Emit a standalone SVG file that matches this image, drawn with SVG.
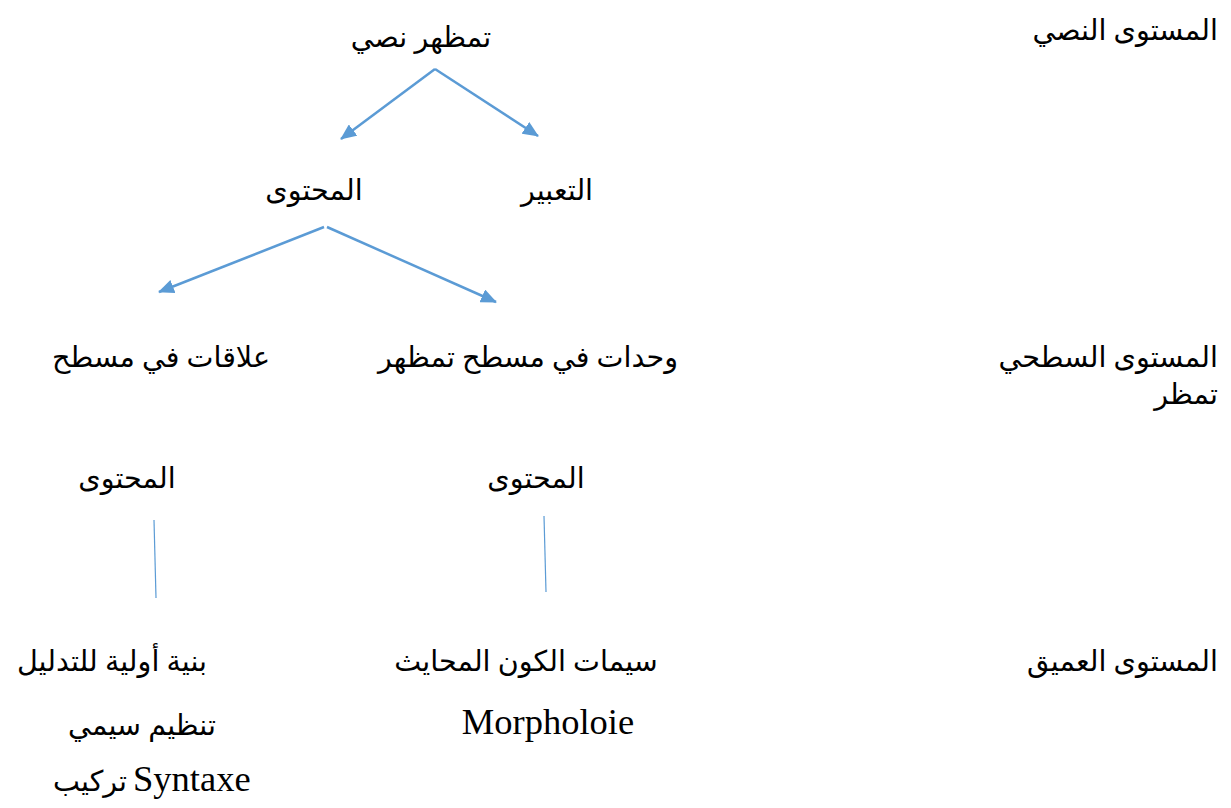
<svg xmlns="http://www.w3.org/2000/svg" width="1231" height="808" viewBox="0 0 1231 808">
<style>
.t{font-family:"Liberation Serif","DejaVu Sans",serif;font-size:28.6px;fill:#000;}
.r{text-anchor:end;}
.c{text-anchor:middle;}
.lat{font-family:"Liberation Serif",serif;font-size:36.5px;fill:#000;}
.ln{stroke:#5B9BD5;stroke-width:2.5;fill:none;}
.thin{stroke:#5B9BD5;stroke-width:1.2;fill:none;}
</style>
<defs>
<marker id="ah" markerUnits="userSpaceOnUse" markerWidth="16" markerHeight="14" refX="15" refY="7" orient="auto">
<path d="M0,0 L16,7 L0,14 Z" fill="#5B9BD5"/>
</marker>
</defs>
<rect width="1231" height="808" fill="#fff"/>
<g id="connectors">
<line class="ln" x1="435" y1="69" x2="341" y2="139" marker-end="url(#ah)"/>
<line class="ln" x1="435" y1="69" x2="538" y2="136" marker-end="url(#ah)"/>
<line class="ln" x1="324" y1="227" x2="159" y2="292" marker-end="url(#ah)"/>
<line class="ln" x1="327" y1="227" x2="496" y2="302" marker-end="url(#ah)"/>
<line class="thin" x1="154" y1="520" x2="156" y2="598"/>
<line class="thin" x1="544" y1="516" x2="546" y2="592"/>
</g>
<g id="level-textual"><text class="t r" x="1218" y="40">المستوى النصي</text></g>
<g id="level-surface"><text class="t r" x="1218" y="367">المستوى السطحي</text><text class="t r" x="1218" y="404">تمظر</text></g>
<g id="level-deep"><text class="t r" x="1218" y="671">المستوى العميق</text></g>
<g id="node-root"><text class="t c" x="421" y="47">تمظهر نصي</text></g>
<g id="node-expression"><text class="t c" x="557" y="200">التعبير</text></g>
<g id="node-content"><text class="t c" x="314" y="200">المحتوى</text></g>
<g id="node-relations"><text class="t c" x="161" y="367">علاقات في مسطح</text></g>
<g id="node-units"><text class="t c" x="528" y="367">وحدات في مسطح تمظهر</text></g>
<g id="node-content-left"><text class="t c" x="127" y="488">المحتوى</text></g>
<g id="node-content-mid"><text class="t c" x="536" y="488">المحتوى</text></g>
<g id="node-syntax">
<text class="t c" x="112" y="671">بنية أولية للتدليل</text>
<text class="t c" x="142" y="735">تنظيم سيمي</text>
<text class="t c" x="90" y="791">تركيب</text>
<text class="lat" x="133" y="791">Syntaxe</text>
</g>
<g id="node-morphology">
<text class="t c" x="526" y="671">سيمات الكون المحايث</text>
<text class="lat c" x="548" y="734">Morpholoie</text>
</g>
</svg>
